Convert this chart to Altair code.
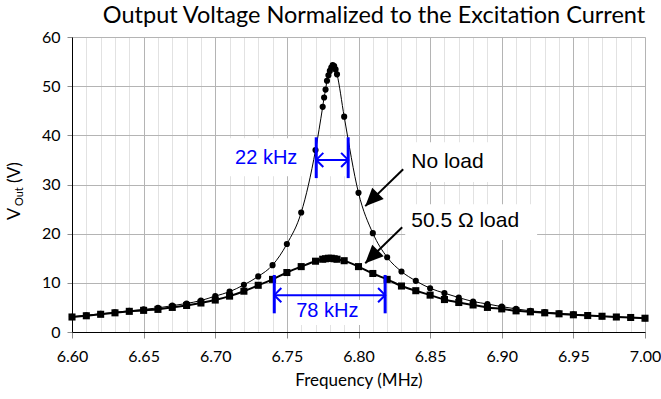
import altair as alt
import pandas as pd

# ---------------- data ----------------
freq_noload = [6.60, 6.61, 6.62, 6.63, 6.64, 6.65, 6.66, 6.67, 6.68, 6.69,
               6.70, 6.71, 6.72, 6.73, 6.74, 6.75, 6.76, 6.77,
               6.775, 6.776, 6.777, 6.778, 6.779, 6.780, 6.781, 6.782, 6.783, 6.784, 6.785,
               6.79, 6.80, 6.81, 6.82, 6.83, 6.84, 6.85, 6.86, 6.87, 6.88, 6.89,
               6.90, 6.91, 6.92, 6.93, 6.94, 6.95, 6.96, 6.97, 6.98, 6.99, 7.00]
vout_noload = [3.1, 3.4, 3.7, 4.0, 4.3, 4.6, 4.9, 5.35, 5.8, 6.4,
               7.3, 8.2, 9.6, 11.3, 13.6, 17.9, 24.3, 37.0,
               45.8, 47.7, 49.3, 51.1, 52.2, 53.1, 53.8, 54.3, 54.1, 53.4, 52.4,
               43.8, 28.3, 20.1, 15.2, 12.3, 10.4, 8.9, 7.9, 7.0, 6.2, 5.7,
               5.15, 4.7, 4.3, 4.05, 3.8, 3.6, 3.4, 3.2, 3.05, 2.9, 2.8]

freq_load = [6.60, 6.61, 6.62, 6.63, 6.64, 6.65, 6.66, 6.67, 6.68, 6.69,
             6.70, 6.71, 6.72, 6.73, 6.74, 6.75, 6.76, 6.77,
             6.775, 6.777, 6.779, 6.781, 6.783, 6.785,
             6.79, 6.80, 6.81, 6.82, 6.83, 6.84, 6.85, 6.86, 6.87, 6.88, 6.89,
             6.90, 6.91, 6.92, 6.93, 6.94, 6.95, 6.96, 6.97, 6.98, 6.99, 7.00]
vout_load = [3.05, 3.3, 3.6, 3.9, 4.2, 4.4, 4.6, 5.0, 5.4, 5.9,
             6.5, 7.3, 8.3, 9.5, 10.7, 12.1, 13.3, 14.4,
             14.8, 14.9, 15.0, 15.0, 14.9, 14.8,
             14.5, 13.3, 11.9, 10.7, 9.35, 8.4, 7.5, 6.6, 6.0, 5.5, 5.0,
             4.7, 4.3, 4.1, 3.9, 3.7, 3.5, 3.35, 3.2, 3.05, 2.95, 2.8]

x_ticks = [round(6.60 + 0.01 * i, 2) for i in range(41)]
y_ticks = [0, 10, 20, 30, 40, 50, 60]

# bandwidth markers (blue)
bw_labels = ["22 kHz", "78 kHz"]
bw_left = [6.7705, 6.7412]
bw_right = [6.7928, 6.8186]
bw_bar_top = [39.6, 11.6]
bw_bar_bot = [31.3, 3.8]
bw_arrow_y = [35.0, 7.5]
bw_text_x = [6.7356, 6.7782]
bw_text_y = [35.4, 4.3]

# series labels with arrows
lab_text = ["No load", "50.5 \u03a9 load"]
lab_x = [6.8368, 6.8368]
lab_y = [34.6, 22.6]
arr_tail_x = [6.8312, 6.8305]
arr_tail_y = [33.1, 21.3]
arr_tip_x = [6.8047, 6.8047]
arr_tip_y = [25.6, 14.0]

# white boxes behind the labels
box_x1 = [6.7079, 6.7524, 6.8326, 6.8326]
box_x2 = [6.7915, 6.8049, 6.8968, 6.9247]
box_y1 = [31.7, 1.4, 30.5, 18.7]
box_y2 = [39.4, 6.5, 38.6, 26.0]

# ---------------- frames ----------------
df_nl = pd.DataFrame({"f": freq_noload, "v": vout_noload})
df_ld = pd.DataFrame({"f": freq_load, "v": vout_load})
df_bw = pd.DataFrame({"lab": bw_labels, "f": bw_left, "f2": bw_right,
                      "top": bw_bar_top, "bot": bw_bar_bot, "ay": bw_arrow_y,
                      "tx": bw_text_x, "ty": bw_text_y})
df_lab = pd.DataFrame({"t": lab_text, "f": lab_x, "v": lab_y,
                       "tx": arr_tail_x, "ty": arr_tail_y,
                       "hx": arr_tip_x, "hy": arr_tip_y})
df_box = pd.DataFrame({"f": box_x1, "f2": box_x2, "v": box_y1, "v2": box_y2})

MAJOR = "abs(datum.value*20 - round(datum.value*20)) < 0.001"
FONT = "Lato"
BLUE = "#0000ff"

x_scale = alt.Scale(domain=[6.6, 7.0], nice=False, zero=False)
y_scale = alt.Scale(domain=[0, 60], nice=False)

x_axis = alt.Axis(
    values=x_ticks, title="Frequency (MHz)",
    labelExpr=f"{MAJOR} ? format(datum.value, '.2f') : ''",
    gridColor={"condition": {"test": MAJOR, "value": "#b4b4b4"}, "value": "#e2e2e2"},
    tickOpacity={"condition": {"test": MAJOR, "value": 1}, "value": 0},
    tickColor="#8c8c8c", tickSize=6, labelPadding=10,
    domainColor="#000000", labelFont=FONT, labelFontSize=16, labelColor="#000000",
    titleFont=FONT, titleFontSize=17, titleFontWeight="normal", titleColor="#000000",
    titlePadding=8, labelFlush=False,
)
y_axis = alt.Axis(
    values=y_ticks, title=None, gridColor="#b4b4b4", tickColor="#8c8c8c",
    tickSize=5, labelPadding=7, domainColor="#000000",
    labelFont=FONT, labelFontSize=16, labelColor="#000000",
)

X = alt.X("f:Q", scale=x_scale, axis=x_axis)
Y = alt.Y("v:Q", scale=y_scale, axis=y_axis)

boxes = alt.Chart(df_box).mark_rect(color="white").encode(
    x=X, x2="f2:Q", y=Y, y2="v2:Q")

line_ld = alt.Chart(df_ld).mark_line(color="black", strokeWidth=2, interpolate="monotone").encode(x=X, y=Y)
pts_ld = alt.Chart(df_ld).mark_point(shape="square", filled=True, color="black", size=50, opacity=1).encode(x=X, y=Y)
line_nl = alt.Chart(df_nl).mark_line(color="black", strokeWidth=1, interpolate="monotone").encode(x=X, y=Y)
pts_nl = alt.Chart(df_nl).mark_point(shape="circle", filled=True, color="black", size=38, opacity=1).encode(x=X, y=Y)

bars_l = alt.Chart(df_bw).mark_rule(color=BLUE, strokeWidth=3).encode(
    x=X, y=alt.Y("top:Q", scale=y_scale, axis=y_axis), y2="bot:Q")
bars_r = alt.Chart(df_bw).mark_rule(color=BLUE, strokeWidth=3).encode(
    x=alt.X("f2:Q", scale=x_scale, axis=x_axis), y=alt.Y("top:Q", scale=y_scale, axis=y_axis), y2="bot:Q")
bw_line = alt.Chart(df_bw).mark_rule(color=BLUE, strokeWidth=2).encode(
    x=X, x2="f2:Q", y=alt.Y("ay:Q", scale=y_scale, axis=y_axis))
head_l = alt.Chart(df_bw).mark_point(shape="M1,-1 L0,0 L1,1", filled=False, color=BLUE,
                                     strokeWidth=2, size=200, opacity=1).encode(
    x=X, y=alt.Y("ay:Q", scale=y_scale, axis=y_axis))
head_r = alt.Chart(df_bw).mark_point(shape="M-1,-1 L0,0 L-1,1", filled=False, color=BLUE,
                                     strokeWidth=2, size=200, opacity=1).encode(
    x=alt.X("f2:Q", scale=x_scale, axis=x_axis), y=alt.Y("ay:Q", scale=y_scale, axis=y_axis))
bw_text = alt.Chart(df_bw).mark_text(color=BLUE, font="Liberation Sans", fontSize=20,
                                     align="center", baseline="middle").encode(
    x=alt.X("tx:Q", scale=x_scale, axis=x_axis), y=alt.Y("ty:Q", scale=y_scale, axis=y_axis), text="lab:N")

arr_line = alt.Chart(df_lab).mark_rule(color="black", strokeWidth=2).encode(
    x=alt.X("tx:Q", scale=x_scale, axis=x_axis), x2="hx:Q",
    y=alt.Y("ty:Q", scale=y_scale, axis=y_axis), y2="hy:Q")
arr_head = alt.Chart(df_lab).mark_point(shape="M0,0 L0.45,1 L-0.45,1 Z", filled=True, color="black",
                                        size=1300, angle=225, opacity=1).encode(
    x=alt.X("hx:Q", scale=x_scale, axis=x_axis), y=alt.Y("hy:Q", scale=y_scale, axis=y_axis))
lab = alt.Chart(df_lab).mark_text(color="black", font="Liberation Sans", fontSize=21,
                                  align="left", baseline="middle").encode(
    x=X, y=Y, text="t:N")

# chart title and y-axis title (with subscript) as text
title = alt.Chart(pd.DataFrame({"t": ["Output Voltage Normalized to the Excitation Current"]})).mark_text(
    font=FONT, fontSize=23.5, color="black", align="center", baseline="middle").encode(
    x=alt.value(302), y=alt.value(-21), text="t:N")
yt_df = pd.DataFrame({"t": ["V", "Out", "(V)"], "px": [-57, -52.5, -57], "py": [183, 169, 146],
                      "s": [18, 11, 17]})
ytitle = alt.Chart(yt_df).mark_text(font=FONT, color="black", angle=270, align="left",
                                    baseline="middle").encode(
    x=alt.X("px:Q", scale=None), y=alt.Y("py:Q", scale=None), text="t:N",
    size=alt.Size("s:Q", scale=None, legend=None))

chart = alt.layer(
    boxes, line_ld, line_nl, pts_ld, pts_nl,
    bars_l, bars_r, bw_line, head_l, head_r, bw_text,
    arr_line, arr_head, lab, title, ytitle,
).properties(
    width=573, height=295,
    autosize=alt.AutoSizeParams(type="none"),
    padding={"left": 72, "top": 37, "right": 16, "bottom": 67},
).configure_view(stroke=None).configure(background="white")

chart.save("out.html", embed_options={"renderer": "svg", "actions": False})
